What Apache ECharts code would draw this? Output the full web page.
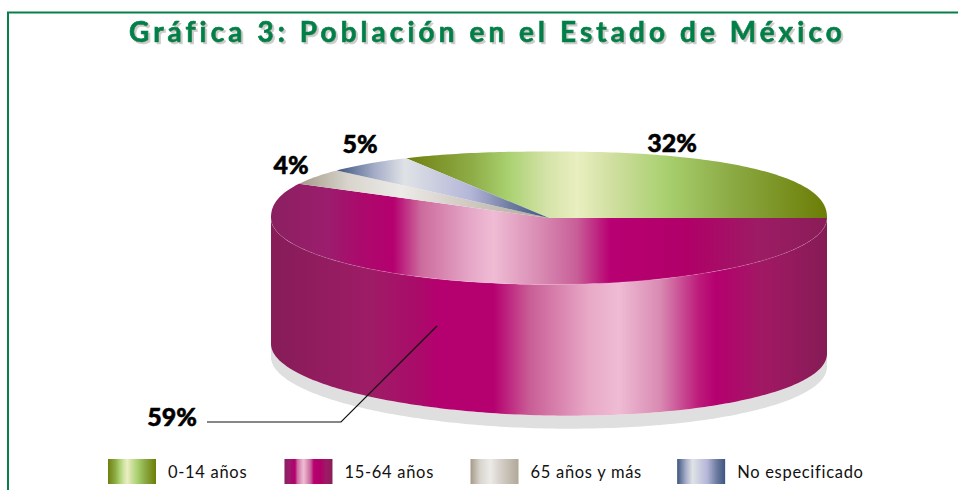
<!DOCTYPE html>
<html><head><meta charset="utf-8">
<style>
html,body{margin:0;padding:0;background:#fff}
#c{width:958px;height:490px}
#c text[style*="28px"]{letter-spacing:4.05px}
#c text[style*="16.5px"]{letter-spacing:.7px}
</style>
<script src="https://cdn.jsdelivr.net/npm/echarts@6/dist/echarts.min.js"></script>
</head><body><div id="c"></div>
<script>
// Data
const chartTitle = 'Gráfica 3: Población en el Estado de México';
const categories = ['0-14 años', '15-64 años', '65 años y más', 'No especificado'];
const values = [32, 59, 4, 5];

// Gradients
const stops = [
  [[0,'#6f7f0f'],[.16,'#8fae48'],[.24,'#a8d06e'],[.33,'#d3e2a6'],[.405,'#e9efc0'],[.49,'#d0dfa0'],[.62,'#a8cf6e'],[.77,'#8cab45'],[1,'#6b7d05']],
  [[0,'#8a2060'],[.10,'#9b1d6d'],[.16,'#ab0a6c'],[.22,'#b5006f'],[.27,'#cc6b9d'],[.36,'#e6a8c8'],[.40,'#efbcd4'],[.485,'#d88ab2'],[.55,'#c85f98'],[.61,'#b80072'],[.75,'#b00068'],[.88,'#9c1c64'],[1,'#8a1c58']],
  [[0,'#a49a8a'],[.2,'#d9d5cd'],[.41,'#ecebe8'],[.6,'#d8d2cc'],[1,'#b0a898']],
  [[0,'#3e5580'],[.18,'#a6adc8'],[.32,'#dfe3e6'],[.63,'#b4b6d8'],[.82,'#6e7ca0'],[1,'#3e5580']]
];
const sideStops = [[0,'#861c58'],[.18,'#9e1c66'],[.27,'#ab0a6a'],[.30,'#b5006f'],[.40,'#b5006f'],[.465,'#c95d96'],[.57,'#e8a8c6'],[.625,'#efbcd4'],[.70,'#d98ab2'],[.77,'#bc1a7a'],[.80,'#b5006f'],[.88,'#a21864'],[1,'#851c56']];
const grad = s => ({type:'linear',x:0,y:0,x2:1,y2:0,colorStops:s.map(p=>({offset:p[0],color:p[1]}))});

// Pie geometry
const cx = 549, cy = 218, rx = 278, ry = 66.5, depth = 131, shadowDrop = 13;
const upperExp = 2.3, skew = 5, baseTilt = 5;
const labelPos = [[672,142],[172,416],[291,164],[360,143]];
const leader = [[207,422],[341,422],[437,326]];

const total = values.reduce((a,b)=>a+b,0);
const D = Math.PI/180;
// rim point for a pie angle (deg, ccw from the right), with the drawing's slight perspective skew
function rim(deg, dy){
  const t = (deg + skew*Math.sin(deg*D))*D;
  let u = Math.cos(t), v = Math.sin(t);
  const p = v > 0 ? upperExp : 2;
  const n = Math.pow(Math.pow(Math.abs(u),p)+Math.pow(Math.abs(v),p),1/p);
  return [cx+rx*u/n, cy-ry*v/n+(dy?dy+baseTilt*u/n:0)];
}
function arc(a0,a1,dy){ // a0 > a1, clockwise
  const pts=[], n=Math.max(2,Math.ceil((a0-a1)/1));
  for(let i=0;i<=n;i++) pts.push(rim(a0+(a1-a0)*i/n,dy));
  return pts;
}
// clockwise sweep starts where the first slice's share ends
const startAngle = values[0]/total*360;
function sliceRange(i){
  let before=0; for(let k=0;k<i;k++) before+=values[k];
  const a0=startAngle-before/total*360, a1=a0-values[i]/total*360;
  return [a0,a1];
}
function renderItem(params, api){
  const i = params.seriesIndex, share = api.value(0);
  const [a0,a1] = sliceRange(i);
  const children = [];
  // front wall: the part of the slice on the near half of the rim (angles -180..0)
  const f0 = Math.min(a0,0), f1 = Math.max(a1,-180);
  if (f0 > f1){
    const top = arc(f0,f1,0), bot = arc(f0,f1,depth), low = arc(f0,f1,depth+shadowDrop);
    children.push({type:'polygon',shape:{points:bot.concat(low.slice().reverse())},style:{fill:'#dfdfdf'},silent:true});
    children.push({type:'polygon',shape:{points:top.concat(bot.slice().reverse())},style:{fill:grad(sideStops)},silent:true});
  }
  children.push({type:'polygon',shape:{points:[[cx,cy]].concat(arc(a0,a1,0))},style:{fill:grad(stops[i])},silent:true});
  if (f0 > f1){
    children.push({type:'polyline',shape:{points:arc(f0,f1,0)},style:{fill:null,stroke:'rgba(255,255,255,.12)',lineWidth:1},silent:true});
    children.push({type:'polyline',shape:{points:leader},style:{fill:null,stroke:'#111',lineWidth:1.2},silent:true});
  }
  children.push({type:'text',x:labelPos[i][0],y:labelPos[i][1],silent:true,
    style:{text:share+'%',fill:'#000',stroke:'#000',lineWidth:.5,align:'center',verticalAlign:'middle',font:'900 25px Lato'}});
  return {type:'group',children};
}
const chart = echarts.init(document.getElementById('c'),null,{renderer:'svg'});
chart.setOption({
  animation:false,
  backgroundColor:'#fff',
  title:{text:chartTitle,left:129,top:17,padding:0,
    textStyle:{color:'#068048',fontFamily:'Lato',fontWeight:'bold',fontSize:28,
      textBorderColor:'#068048',textBorderWidth:.7,
      textShadowColor:'rgba(170,170,170,.6)',textShadowBlur:1.5,textShadowOffsetX:2,textShadowOffsetY:2}},
  legend:{left:108,top:459,padding:0,itemWidth:48,itemHeight:25,itemGap:43.5,icon:'rect',selectedMode:false,
    data:categories.map((name,i)=> i===2 ? {name,textStyle:{padding:[0,3,0,7]}} : {name}),
    textStyle:{color:'#111',fontFamily:'Lato',fontSize:16.5,padding:[0,0,0,7]}},
  graphic:[
    {type:'polyline',silent:true,shape:{points:[[8,490],[8,12.5],[958,12.5]]},style:{fill:null,stroke:'#068048',lineWidth:2}}
  ],
  series:categories.map((name,i)=>({
    type:'custom',name,coordinateSystem:'none',renderItem,silent:true,
    itemStyle:{color:grad(stops[i])},
    data:[[values[i]]]
  }))
});
</script></body></html>
